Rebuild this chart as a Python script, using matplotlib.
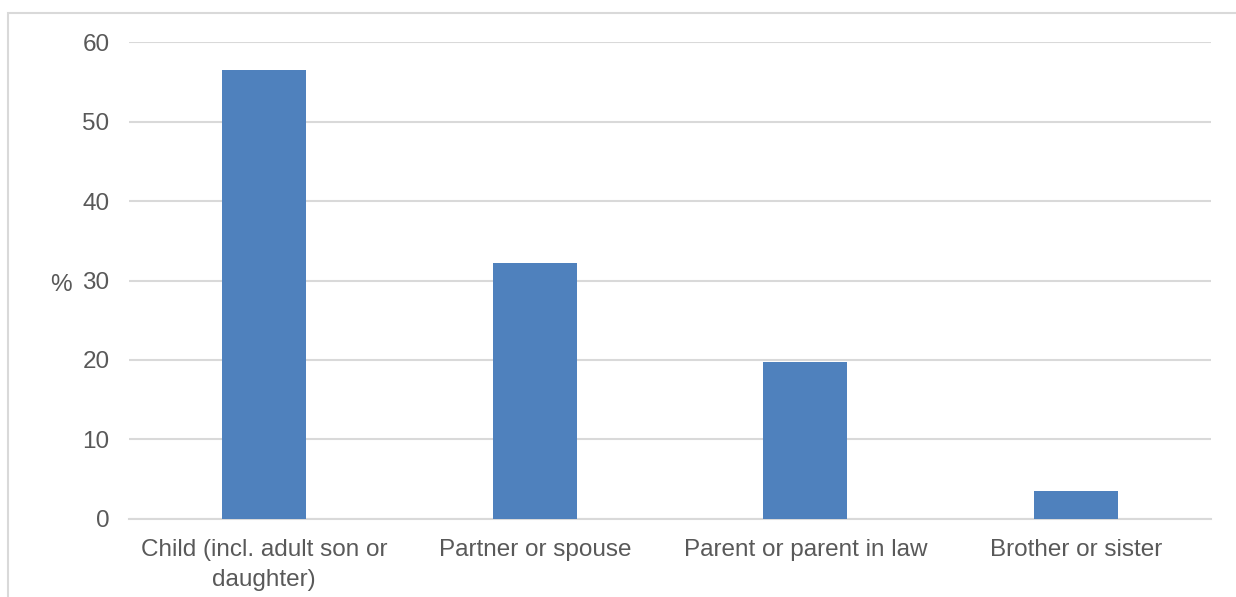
import matplotlib.pyplot as plt
from matplotlib.patches import Rectangle

categories = ['Child (incl. adult son or\ndaughter)', 'Partner or spouse',
              'Parent or parent in law', 'Brother or sister']
values = [56.5, 32.2, 19.8, 3.5]
y_ticks = [0, 10, 20, 30, 40, 50, 60]

plt.rcParams['font.family'] = ['Liberation Sans', 'DejaVu Sans']

fig = plt.figure(figsize=(12.36, 5.97), dpi=100)
ax = fig.add_axes([0.1044, 0.1307, 0.8754, 0.7989])

# chart frame, cut off on the right and at the bottom like the source
fig.patches.append(Rectangle((8 / 1236, -0.5), 2, 0.978 + 0.5,
                             transform=fig.transFigure, fill=False,
                             edgecolor='#d9d9d9', linewidth=1.5))

x = range(len(categories))
ax.bar(x, values, width=0.31, color='#4f81bd', zorder=3)

ax.set_xlim(-0.5, len(categories) - 0.5)
ax.set_ylim(0, 60)
ax.set_yticks(y_ticks)
ax.set_xticks(list(x))
ax.set_xticklabels(categories, linespacing=1.45)
ax.yaxis.grid(True, color='#d9d9d9', linewidth=1.5, zorder=0)
ax.set_axisbelow(True)

for side in ['top', 'right', 'left']:
    ax.spines[side].set_visible(False)
ax.spines['bottom'].set_color('#d9d9d9')
ax.spines['bottom'].set_linewidth(1.5)

ax.tick_params(axis='both', length=0, labelsize=17.5, labelcolor='#595959')
ax.tick_params(axis='y', pad=14)
ax.tick_params(axis='x', pad=14.5)

ax.set_ylabel('%', rotation=0, fontsize=17.5, color='#595959', labelpad=18,
              va='center')
ax.yaxis.set_label_coords(-0.063, 0.49)

fig.savefig('out.png', dpi=100)
